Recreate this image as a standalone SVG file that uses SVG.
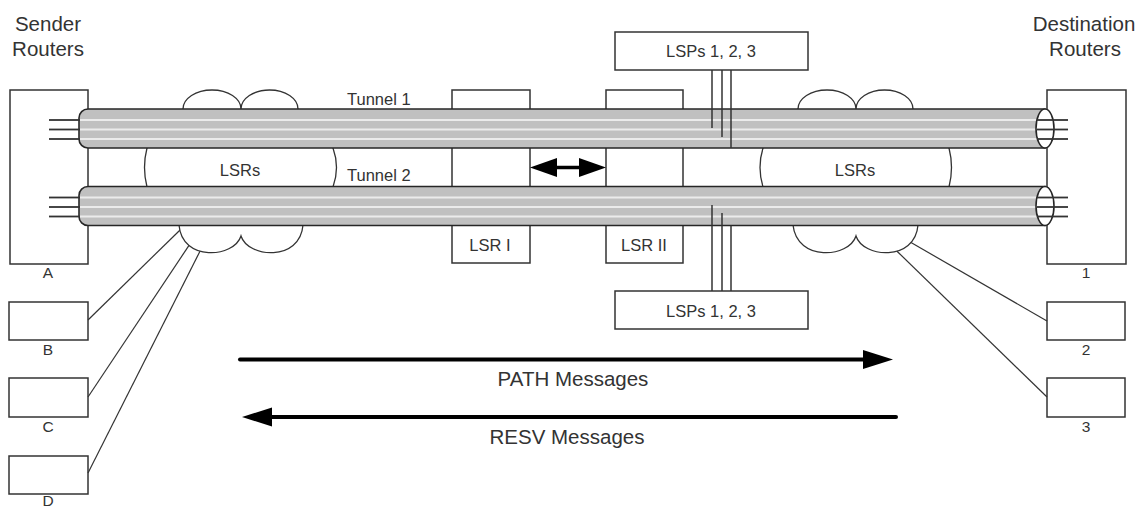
<svg xmlns="http://www.w3.org/2000/svg" width="1141" height="508" viewBox="0 0 1141 508">
<defs>
<marker id="bigHead" markerUnits="userSpaceOnUse" markerWidth="30" markerHeight="20" viewBox="0 0 30 20" refX="17" refY="10" orient="auto-start-reverse"><path d="M0,0.5 L30,10 L0,19.5 Z" fill="#000"/></marker>
<marker id="dblHead" markerUnits="userSpaceOnUse" markerWidth="27" markerHeight="20" viewBox="0 0 27 20" refX="17" refY="10" orient="auto-start-reverse"><path d="M0,0.5 L27,10 L0,19.5 Z" fill="#000"/></marker>
</defs>
<style>
.box{fill:#fff;stroke:#333;stroke-width:1.5}
.cloud{fill:#fff;stroke:#333;stroke-width:1.3}
.tube{fill:#c0c0c0;stroke:#262626;stroke-width:1.6}
.stripe{stroke:#ebebeb;stroke-width:2}
.wire{stroke:#333;stroke-width:1.8}
.cap{fill:#fff;stroke:#262626;stroke-width:1.6}
.conn{stroke:#333;stroke-width:1.2;fill:none}
.lsp{stroke:#333;stroke-width:1.5}
.msg{stroke:#000;stroke-width:4;stroke-linecap:round}
.dbl{stroke:#000;stroke-width:3.5}
text{font-family:"Liberation Sans",Arial,sans-serif;fill:#333}
.big{font-size:20.5px}
.mid{font-size:16.5px}
.sm{font-size:15.5px}
.c{text-anchor:middle}
</style>
<rect width="1141" height="508" fill="#fff"/>

<g id="title-sender"><text class="big c" x="48" y="30.5">Sender</text><text class="big c" x="48" y="56">Routers</text></g>
<g id="title-dest"><text class="big c" x="1084" y="30.5">Destination</text><text class="big c" x="1085" y="56">Routers</text></g>

<g id="router-A"><rect class="box" x="10" y="90" width="78" height="174"/><text class="sm c" x="48" y="278">A</text></g>
<g id="router-B"><rect class="box" x="9" y="302" width="79" height="38"/><text class="sm c" x="48" y="355">B</text></g>
<g id="router-C"><rect class="box" x="9" y="378" width="79" height="39"/><text class="sm c" x="48" y="432">C</text></g>
<g id="router-D"><rect class="box" x="9" y="456" width="79" height="38"/><text class="sm c" x="48" y="506">D</text></g>
<g id="router-1"><rect class="box" x="1047" y="90" width="79" height="174"/><text class="sm c" x="1086" y="278">1</text></g>
<g id="router-2"><rect class="box" x="1047" y="302" width="78" height="38"/><text class="sm c" x="1086" y="355">2</text></g>
<g id="router-3"><rect class="box" x="1047" y="378" width="78" height="39"/><text class="sm c" x="1086" y="432">3</text></g>

<g id="lsr-1"><rect class="box" x="452" y="90" width="78" height="173"/><text class="mid c" x="490" y="250.5">LSR I</text></g>
<g id="lsr-2"><rect class="box" x="606" y="90" width="77" height="173"/><text class="mid c" x="644" y="250.5">LSR II</text></g>

<g id="cloud-left">
<path class="cloud" d="M183,109 A29,19 0 0 1 241,109 A28.5,19 0 0 1 298,109 L333,148 Q340,167.5 333,187 L303,225 C300,262 248,258 241,236 C234,258 182,262 179,225 L147,187 Q142,167.5 147,148 Z"/>
<text class="mid c" x="240" y="176">LSRs</text>
</g>
<g id="cloud-right">
<path class="cloud" d="M798,109 A29,19 0 0 1 856,109 A28.5,19 0 0 1 913,109 L949,148 Q954,167.5 949,187 L918,225 C915,262 863,258 856,236 C849,258 797,262 793,225 L763,187 Q757,167.5 763,148 Z"/>
<text class="mid c" x="855" y="176">LSRs</text>
</g>

<g id="tunnel-1">
<path class="tube" d="M88,109 H1045 V148 H88 A9,9 0 0 1 79,139 V118 A9,9 0 0 1 88,109 Z"/>
<line class="stripe" x1="80" y1="120" x2="1040" y2="120"/>
<line class="stripe" x1="80" y1="129.5" x2="1040" y2="129.5"/>
<line class="stripe" x1="80" y1="139" x2="1040" y2="139"/>
<ellipse class="cap" cx="1045" cy="128.5" rx="9" ry="19.5"/>
<line class="wire" x1="49" y1="120" x2="80" y2="120"/>
<line class="wire" x1="49" y1="129.5" x2="80" y2="129.5"/>
<line class="wire" x1="49" y1="139" x2="80" y2="139"/>
<line class="wire" x1="1037" y1="120" x2="1068" y2="120"/>
<line class="wire" x1="1037" y1="129.5" x2="1068" y2="129.5"/>
<line class="wire" x1="1037" y1="139" x2="1068" y2="139"/>
<text class="mid" x="347" y="104.5">Tunnel 1</text>
</g>
<g id="tunnel-2">
<path class="tube" d="M88,186.5 H1045 V225.5 H88 A9,9 0 0 1 79,216.5 V195.5 A9,9 0 0 1 88,186.5 Z"/>
<line class="stripe" x1="80" y1="197.5" x2="1040" y2="197.5"/>
<line class="stripe" x1="80" y1="207" x2="1040" y2="207"/>
<line class="stripe" x1="80" y1="216.5" x2="1040" y2="216.5"/>
<ellipse class="cap" cx="1045" cy="206" rx="9" ry="19.5"/>
<line class="wire" x1="49" y1="197.5" x2="80" y2="197.5"/>
<line class="wire" x1="49" y1="207" x2="80" y2="207"/>
<line class="wire" x1="49" y1="216.5" x2="80" y2="216.5"/>
<line class="wire" x1="1037" y1="197.5" x2="1068" y2="197.5"/>
<line class="wire" x1="1037" y1="207" x2="1068" y2="207"/>
<line class="wire" x1="1037" y1="216.5" x2="1068" y2="216.5"/>
<text class="mid" x="347" y="181">Tunnel 2</text>
</g>

<g id="lsps-top"><rect class="box" x="615" y="32" width="193" height="38"/><text class="mid c" x="711" y="57">LSPs 1, 2, 3</text></g>
<g id="lsps-bottom"><rect class="box" x="615" y="291" width="193" height="38"/><text class="mid c" x="711" y="316.5">LSPs 1, 2, 3</text></g>

<g id="connectors">
<line class="conn" x1="88" y1="320" x2="179.8" y2="230.2"/>
<line class="conn" x1="88" y1="397" x2="189" y2="245.4"/>
<line class="conn" x1="88" y1="473" x2="200" y2="251.2"/>
<line class="conn" x1="1047" y1="321" x2="911" y2="242.5"/>
<line class="conn" x1="1047" y1="397" x2="897" y2="251.2"/>
<line class="lsp" x1="712" y1="70" x2="712" y2="128"/>
<line class="lsp" x1="722" y1="70" x2="722" y2="137"/>
<line class="lsp" x1="731" y1="70" x2="731" y2="148"/>
<line class="lsp" x1="712" y1="205" x2="712" y2="291"/>
<line class="lsp" x1="722" y1="213" x2="722" y2="291"/>
<line class="lsp" x1="731" y1="225.5" x2="731" y2="291"/>
<line class="dbl" x1="540" y1="167.5" x2="596" y2="167.5" marker-start="url(#dblHead)" marker-end="url(#dblHead)"/>
<line class="msg" x1="240" y1="359.5" x2="880" y2="359.5" marker-end="url(#bigHead)"/>
<line class="msg" x1="896" y1="417" x2="255" y2="417" marker-end="url(#bigHead)"/>
</g>
<g id="label-path"><text class="big c" x="573" y="386">PATH Messages</text></g>
<g id="label-resv"><text class="big c" x="567" y="444">RESV Messages</text></g>
</svg>
